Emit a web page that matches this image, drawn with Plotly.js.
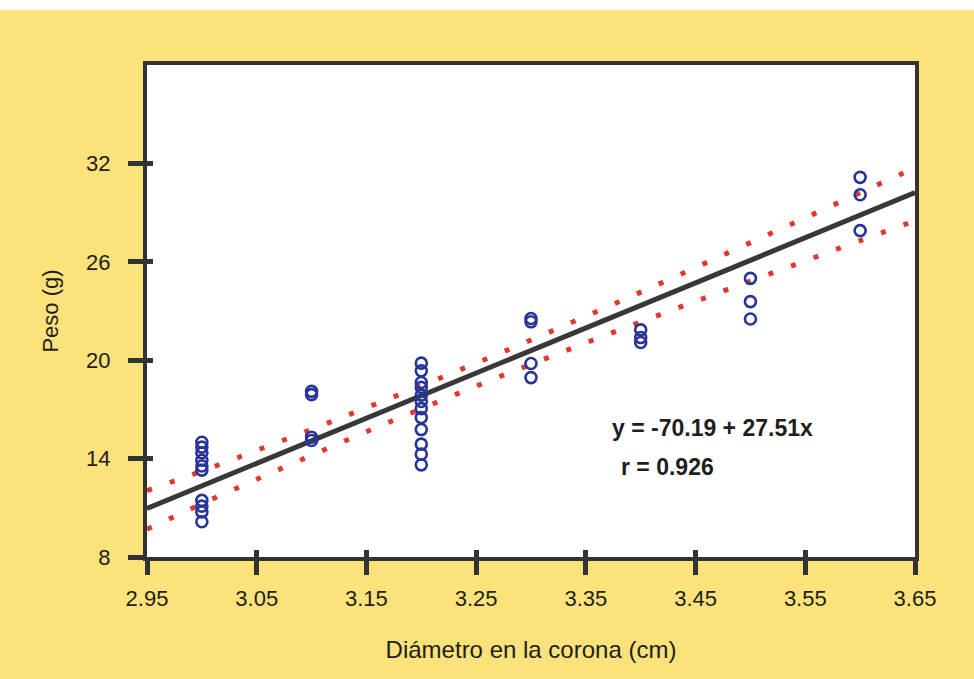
<!DOCTYPE html>
<html>
<head>
<meta charset="utf-8">
<script src="https://cdn.plot.ly/plotly-3.0.1.min.js"></script>
<style>html,body{margin:0;padding:0;background:#fff;}</style>
</head>
<body>
<div id="chart" style="width:974px;height:679px;"></div>
<script>
// Observed points: crown diameter (cm) and weight (g)
const diam = [
  3.0,3.0,3.0,3.0,3.0,3.0,3.0,3.0,3.0,3.0,
  3.1,3.1,3.1,3.1,
  3.2,3.2,3.2,3.2,3.2,3.2,3.2,3.2,3.2,3.2,3.2,3.2,
  3.3,3.3,3.3,3.3,
  3.4,3.4,3.4,
  3.5,3.5,3.5,
  3.6,3.6,3.6
];
const peso = [
  15.0,14.7,14.35,13.9,13.55,13.3,11.45,11.1,10.75,10.15,
  18.1,17.9,15.3,15.1,
  19.82,19.35,18.64,18.34,17.87,17.48,17.05,16.5,15.77,14.88,14.27,13.62,
  22.54,22.34,19.8,18.94,
  21.85,21.38,21.08,
  24.99,23.57,22.51,
  31.15,30.09,27.9
];

// Fitted line y = -70.19 + 27.51x, read at the plot edges
const fitX = [2.95, 3.65];
const fitY = [10.96, 30.22];

// Confidence band (red dotted)
const bandX = [2.95,3.00,3.05,3.10,3.15,3.20,3.25,3.30,3.35,3.40,3.45,3.50,3.55,3.60,3.65];
const bandUpper = [12.05,13.24,14.50,15.78,17.10,18.44,19.82,21.23,22.68,24.15,25.65,27.17,28.68,30.21,31.74];
const bandLower = [9.69,11.24,12.74,14.20,15.64,17.04,18.42,19.75,21.06,22.33,23.59,24.83,26.06,27.29,28.50];

const xTicks = [2.95,3.05,3.15,3.25,3.35,3.45,3.55,3.65];
const xTickText = ['2.95','3.05','3.15','3.25','3.35','3.45','3.55','3.65'];
const yTicks = [8,14,20,26,32];
const yTickText = ['8','14','20','26','32'];

const eqText = 'y = -70.19 + 27.51x';
const rText = 'r = 0.926';

const FONT = 'Liberation Sans, Arial, sans-serif';
const AX = '#333333';
const RED = '#e0392c';

const traces = [
  {x: bandX, y: bandUpper, type:'scatter', mode:'lines',
   line:{color:RED, width:5, dash:'5px,19px', shape:'spline'}, hoverinfo:'skip'},
  {x: bandX, y: bandLower, type:'scatter', mode:'lines',
   line:{color:RED, width:5, dash:'5px,19px', shape:'spline'}, hoverinfo:'skip'},
  {x: fitX, y: fitY, type:'scatter', mode:'lines',
   line:{color:'#383838', width:5}, hoverinfo:'skip'},
  {x: diam, y: peso, type:'scatter', mode:'markers',
   marker:{symbol:'circle-open', size:11, color:'#26359a', line:{width:2.6, color:'#26359a'}}},
  {x:[null], y:[null], xaxis:'x2', yaxis:'y', type:'scatter', mode:'markers', hoverinfo:'skip'},
  {x:[null], y:[null], xaxis:'x', yaxis:'y2', type:'scatter', mode:'markers', hoverinfo:'skip'}
];

const layout = {
  width:974, height:679,
  margin:{l:147, r:59, t:65, b:122},
  paper_bgcolor:'#fbe27a',
  plot_bgcolor:'#ffffff',
  showlegend:false,
  font:{family:FONT, color:'#222222'},
  xaxis:{
    range:[2.95,3.65], tickvals:xTicks, ticktext:xTickText,
    showline:true, linewidth:4, linecolor:AX, mirror:true,
    ticks:'outside', ticklen:14, tickwidth:5, tickcolor:AX,
    showgrid:false, zeroline:false,
    tickfont:{family:FONT, size:22, color:'#1e1e1e'},
    ticklabelstandoff:5,
    title:{text:'Diámetro en la corona (cm)', font:{family:FONT, size:24, color:'#1e1e1e'}, standoff:32}
  },
  xaxis2:{
    overlaying:'x', anchor:'y', side:'bottom',
    range:[2.95,3.65], tickvals:xTicks,
    showline:false, showgrid:false, zeroline:false, showticklabels:false,
    ticks:'inside', ticklen:7, tickwidth:5, tickcolor:AX
  },
  yaxis:{
    range:[8,38], tickvals:yTicks, ticktext:yTickText,
    showline:true, linewidth:4, linecolor:AX, mirror:true,
    ticks:'outside', ticklen:15, tickwidth:5, tickcolor:AX,
    showgrid:false, zeroline:false,
    tickfont:{family:FONT, size:22, color:'#1e1e1e'},
    ticklabelstandoff:13,
    title:{text:'Peso (g)', font:{family:FONT, size:22, color:'#1e1e1e'}, standoff:22}
  },
  yaxis2:{
    overlaying:'y', anchor:'x', side:'left',
    range:[8,38], tickvals:yTicks,
    showline:false, showgrid:false, zeroline:false, showticklabels:false,
    ticks:'inside', ticklen:6, tickwidth:5, tickcolor:AX
  },
  shapes:[
    {type:'rect', xref:'paper', yref:'paper', x0:-0.3, x1:1.3, y0:1.1118, y1:1.3,
     fillcolor:'#ffffff', line:{width:0}, layer:'below'}
  ],
  annotations:[
    {x:3.372, y:15.85, xref:'x', yref:'y', xanchor:'left', yanchor:'middle', showarrow:false,
     text:'<b>'+eqText+'</b>', font:{family:FONT, size:23, color:'#1e1e1e'}},
    {x:3.380, y:13.5, xref:'x', yref:'y', xanchor:'left', yanchor:'middle', showarrow:false,
     text:'<b>'+rText+'</b>', font:{family:FONT, size:23, color:'#1e1e1e'}}
  ]
};

Plotly.newPlot('chart', traces, layout, {displayModeBar:false, staticPlot:true});
</script>
</body>
</html>
